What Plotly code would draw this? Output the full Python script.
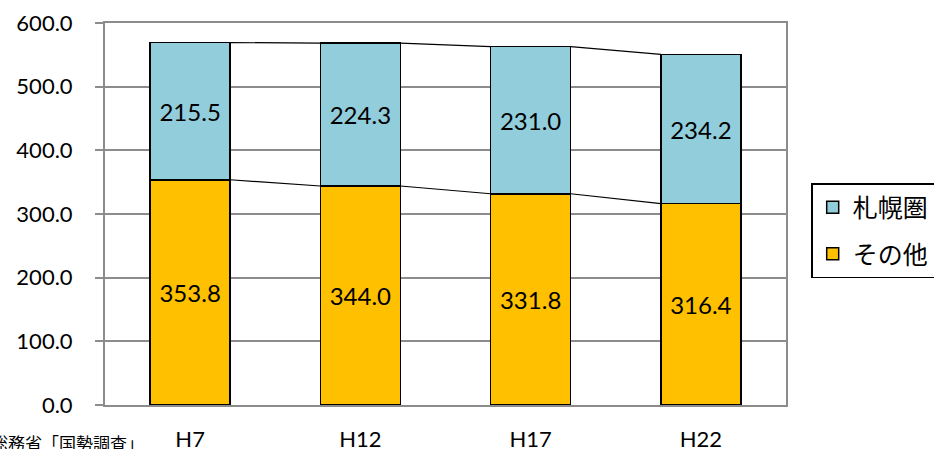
import plotly.graph_objects as go

# Population (thousands) by survey year
years = ["H7", "H12", "H17", "H22"]
sapporo = [215.5, 224.3, 231.0, 234.2]   # 札幌圏
others = [353.8, 344.0, 331.8, 316.4]    # その他

BLUE = "#92CDDC"
ORANGE = "#FFC000"
GRID = "#8C8C8C"
BAR_W = 0.47
FONT = "Lato, 'Noto Sans CJK JP', sans-serif"
JP_FONT = "'Noto Sans CJK JP', sans-serif"

xs = list(range(len(years)))
totals = [o + s for o, s in zip(others, sapporo)]

fig = go.Figure()

fig.add_trace(go.Bar(
    x=xs, y=others, name="その他", width=BAR_W,
    legendgroup="other", legendrank=2,
    marker=dict(color=ORANGE, line=dict(color="black", width=1.5)),
    texttemplate="%{y:.1f}", textposition="inside", insidetextanchor="middle",
    textfont=dict(size=24, color="black", family=FONT),
))
fig.add_trace(go.Bar(
    x=xs, y=sapporo, name="札幌圏", width=BAR_W,
    legendgroup="sapporo", legendrank=1,
    marker=dict(color=BLUE, line=dict(color="black", width=1.5)),
    texttemplate="%{y:.1f}", textposition="inside", insidetextanchor="middle",
    textfont=dict(size=24, color="black", family=FONT),
))

# Series lines joining the tops of neighbouring stacked segments
for level in (others, totals):
    for i in range(len(xs) - 1):
        fig.add_trace(go.Scatter(
            x=[xs[i] + BAR_W / 2, xs[i + 1] - BAR_W / 2],
            y=[level[i], level[i + 1]],
            mode="lines", line=dict(color="black", width=1.2),
            showlegend=False, hoverinfo="skip",
        ))

fig.add_annotation(
    text="総務省「国勢調査」", xref="paper", yref="paper",
    x=0.060, y=-0.097, xanchor="right", yanchor="middle",
    showarrow=False, font=dict(size=17, color="black", family=JP_FONT),
)

fig.update_layout(
    barmode="stack",
    width=934, height=449,
    margin=dict(l=105, r=148, t=23, b=44, autoexpand=False),
    paper_bgcolor="white", plot_bgcolor="white",
    font=dict(family=FONT, size=22, color="black"),
    legend=dict(
        x=1.037, y=0.581, xanchor="left", yanchor="top",
        traceorder="grouped", tracegroupgap=11,
        bgcolor="white", bordercolor="black", borderwidth=1.5,
        font=dict(size=25, family=JP_FONT),
    ),
    xaxis=dict(
        range=[-0.5, len(years) - 0.5],
        tickvals=xs, ticktext=years,
        showgrid=False, showline=True, linecolor=GRID, linewidth=2,
        mirror=True, ticks="", ticklabelstandoff=14,
        tickfont=dict(size=22, family=FONT),
        zeroline=False, automargin=False,
    ),
    yaxis=dict(
        range=[0, 600], dtick=100, tickformat=".1f",
        showgrid=True, gridcolor=GRID, gridwidth=1.5,
        showline=True, linecolor=GRID, linewidth=2, mirror=True,
        ticks="outside", ticklen=8, tickcolor=GRID, tickwidth=1.5,
        ticklabelstandoff=18,
        tickfont=dict(size=22, family=FONT),
        zeroline=False, automargin=False,
    ),
)

fig.write_html("out.html")
